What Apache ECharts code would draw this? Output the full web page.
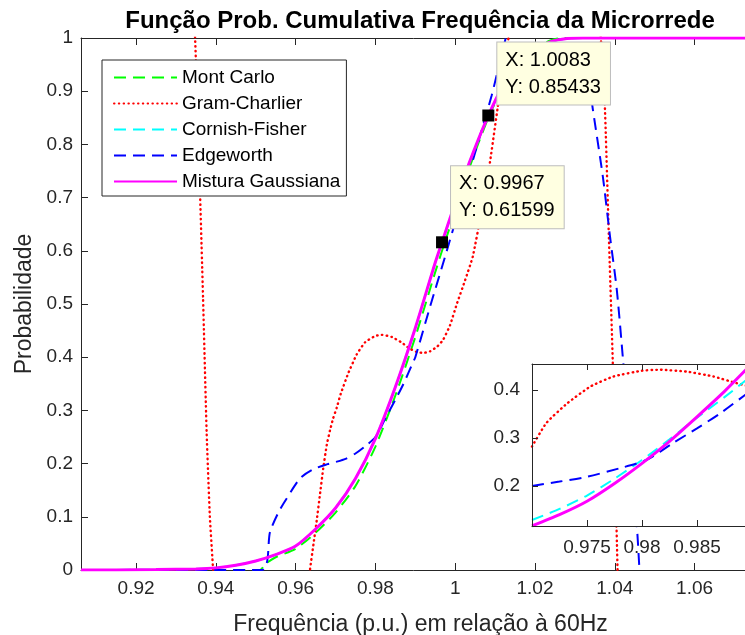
<!DOCTYPE html>
<html>
<head>
<meta charset="utf-8">
<script src="https://cdn.jsdelivr.net/npm/echarts@6/dist/echarts.min.js"></script>
<style>
html, body { margin: 0; padding: 0; background: #fff; }
#chart { width: 745px; height: 635px; }
</style>
</head>
<body>
<div id="chart"></div>
<script>
// Cumulative distribution of microgrid frequency (p.u. of 60 Hz), five estimators.
const seriesNames = ['Mont Carlo', 'Gram-Charlier', 'Cornish-Fisher', 'Edgeworth', 'Mistura Gaussiana'];

const montCarlo = [[0.9062,0],[0.951,0],[0.9525,0.012],[0.955,0.024],[0.96,0.04],[0.965,0.07],[0.97,0.108],
  [0.975,0.158],[0.98,0.232],[0.985,0.328],[0.99,0.438],[0.995,0.56],[0.9967,0.6],[1.0,0.675],[1.0035,0.755],
  [1.0083,0.85],[1.012,0.908],[1.016,0.952],[1.02,0.98],[1.024,0.996],[1.027,1],[1.0764,1]];

const gramCharlier = [[0.933,1.3],[0.9348,1.0],[0.9358,0.77],[0.9368,0.51],[0.9377,0.257],[0.9385,0.1],[0.9393,0],
  [0.9405,-0.25],[0.95,-0.6],[0.96,-0.4],[0.9625,-0.1],[0.9636,0],[0.9645,0.05],[0.9653,0.094],[0.9661,0.142],
  [0.9669,0.19],[0.9678,0.235],[0.9686,0.262],[0.9694,0.285],[0.9703,0.305],[0.9713,0.331],[0.9732,0.37],
  [0.9753,0.405],[0.9774,0.428],[0.98,0.44],[0.9816,0.442],[0.9841,0.438],[0.9865,0.428],[0.9886,0.416],
  [0.9903,0.41],[0.992,0.408],[0.9937,0.411],[0.9955,0.42],[0.997,0.433],[0.9987,0.46],[1.0004,0.5],
  [1.0025,0.545],[1.0044,0.589],[1.0065,0.67],[1.0087,0.766],[1.0107,0.872],[1.0125,0.96],[1.014,1.03],
  [1.02,1.3],[1.03,1.3],[1.035,1.12],[1.0365,1.0],[1.0375,0.874],[1.0385,0.63],[1.0395,0.39],[1.04,0.22],
  [1.0407,0],[1.0415,-0.2],[1.06,-0.6],[1.0764,-0.6]];

const cornishFisher = [[0.9062,0],[0.915,0.0002],[0.925,0.0008],[0.935,0.002],[0.94,0.004],[0.945,0.009],
  [0.95,0.017],[0.955,0.029],[0.96,0.045],[0.965,0.077],[0.97,0.1165],[0.975,0.172],[0.98,0.247],[0.985,0.344],
  [0.99,0.455],[0.995,0.578],[0.9967,0.616],[1.0,0.69],[1.0035,0.765],[1.0083,0.854],[1.012,0.91],[1.016,0.952],
  [1.02,0.978],[1.024,0.993],[1.028,0.999],[1.032,1],[1.0764,1]];

const edgeworth = [[0.9062,0],[0.9515,0],[0.9536,0.072],[0.9558,0.11],[0.9578,0.135],[0.9612,0.173],[0.9643,0.189],
  [0.968,0.199],[0.97,0.203],[0.9725,0.209],[0.975,0.219],[0.9775,0.233],[0.98,0.25],[0.9825,0.285],[0.985,0.32],
  [0.9871,0.351],[0.9894,0.39],[0.99,0.4],[0.9937,0.495],[0.9975,0.59],[1.001,0.68],[1.005,0.785],[1.0091,0.891],
  [1.0125,0.995],[1.015,1.06],[1.022,1.12],[1.029,1.06],[1.032,1.0],[1.0345,0.866],[1.037,0.74],[1.0388,0.627],
  [1.0405,0.527],[1.042,0.401],[1.0438,0.24],[1.0456,0.075],[1.0462,0],[1.047,-0.08],[1.0764,-0.08]];

const misturaGaussiana = [[0.9062,0],[0.915,0.0002],[0.925,0.0008],[0.935,0.002],[0.94,0.004],[0.945,0.009],
  [0.95,0.017],[0.955,0.029],[0.96,0.045],[0.965,0.077],[0.97,0.1165],[0.975,0.172],[0.98,0.247],[0.985,0.344],
  [0.99,0.455],[0.995,0.578],[0.9967,0.616],[1.0,0.69],[1.0035,0.765],[1.0083,0.854],[1.012,0.91],[1.016,0.952],
  [1.02,0.978],[1.024,0.993],[1.028,0.999],[1.032,1],[1.0764,1]];

// Zoomed window 0.97 - 0.99
const gramCharlierZoom = [[0.97,0.282],[0.9713,0.331],[0.9732,0.372],[0.9753,0.407],[0.9774,0.428],[0.98,0.44],
  [0.9816,0.442],[0.9841,0.438],[0.9865,0.428],[0.9886,0.414],[0.99,0.406]];
const cornishFisherZoom = [[0.97,0.129],[0.9725,0.152],[0.975,0.18],[0.9775,0.215],[0.98,0.254],[0.9825,0.297],
  [0.985,0.342],[0.9875,0.385],[0.99,0.43]];
const edgeworthZoom = [[0.97,0.2],[0.9725,0.209],[0.975,0.219],[0.978,0.237],[0.9804,0.254],[0.9828,0.289],
  [0.985,0.32],[0.9871,0.351],[0.9894,0.39],[0.99,0.4]];
const misturaGaussianaZoom = [[0.97,0.1165],[0.9725,0.14],[0.975,0.168],[0.9775,0.205],[0.98,0.247],[0.9825,0.293],
  [0.985,0.344],[0.9875,0.397],[0.99,0.455]];

// Data cursors
const dataTips = [[1.0083, 0.85433], [0.9967, 0.61599]];

const xTicks = [0.92, 0.94, 0.96, 0.98, 1, 1.02, 1.04, 1.06];
const zoomXTicks = [0.975, 0.98, 0.985];
const zoomYTicks = [0.2, 0.3, 0.4];

const FONT = '"Liberation Sans", Arial, sans-serif';
const AX = '#262626';
const colors = {
  'Mont Carlo': '#00FF00',
  'Gram-Charlier': '#FF0000',
  'Cornish-Fisher': '#00FFFF',
  'Edgeworth': '#0000FF',
  'Mistura Gaussiana': '#FF00FF'
};
const styles = {
  'Mont Carlo': { width: 2, type: [12, 7] },
  'Gram-Charlier': { width: 2.4, type: [0.5, 4.3], cap: 'round' },
  'Cornish-Fisher': { width: 2, type: [12, 7] },
  'Edgeworth': { width: 2, type: [12, 7] },
  'Mistura Gaussiana': { width: 3, type: 'solid' }
};

function lineSeries(name, data, xi, yi, z) {
  return {
    type: 'line', name, data, xAxisIndex: xi, yAxisIndex: yi, z,
    symbol: 'none', smooth: name === 'Gram-Charlier' ? 0.15 : 0.25, clip: true,
    lineStyle: Object.assign({ color: colors[name] }, styles[name]),
    itemStyle: { color: colors[name] },
    emphasis: { disabled: true }
  };
}

const frameAxis = (extra) => Object.assign({
  type: 'value', splitLine: { show: false },
  axisLine: { show: true, onZero: false, lineStyle: { color: AX, width: 1 } },
  axisTick: { show: true, inside: true, length: 7, lineStyle: { color: AX } },
  axisLabel: { color: AX, fontSize: 19, fontFamily: FONT }
}, extra);

const chart = echarts.init(document.getElementById('chart'), null, { renderer: 'canvas' });
chart.setOption({
  animation: false,
  backgroundColor: '#fff',
  graphic: [{
    type: 'text', x: 420, y: 21, z: 10,
    style: { text: 'Função Prob. Cumulativa Frequência da Microrrede', align: 'center', verticalAlign: 'middle',
      font: 'bold 24px ' + FONT, fill: '#000' }
  }],
  legend: {
    data: seriesNames, orient: 'vertical', left: 102, top: 60, z: 8,
    itemWidth: 63, itemHeight: 14, itemGap: 7, padding: [8, 6, 5, 11],
    borderColor: AX, borderWidth: 1, backgroundColor: '#fff', selectedMode: false,
    itemStyle: { opacity: 0, color: 'transparent', borderWidth: 0 },
    textStyle: { fontSize: 19, fontFamily: FONT, color: '#000' }
  },
  grid: [
    { left: 81, top: 38, width: 679, height: 532, outerBoundsMode: 'none', containLabel: false },
    { left: 532, top: 364, width: 220, height: 162, outerBoundsMode: 'none', containLabel: false,
      show: true, backgroundColor: '#fff', borderWidth: 0, z: 5 }
  ],
  xAxis: [
    frameAxis({ gridIndex: 0, position: 'bottom', min: 0.9062, max: 1.0764,
      axisTick: { show: true, inside: true, length: 7, lineStyle: { color: AX }, customValues: xTicks },
      axisLabel: { color: AX, fontSize: 19, fontFamily: FONT, margin: 9, customValues: xTicks },
      name: 'Frequência (p.u.) em relação à 60Hz', nameLocation: 'middle', nameGap: 43,
      nameTextStyle: { fontSize: 23, fontFamily: FONT, color: AX } }),
    frameAxis({ gridIndex: 0, position: 'top', min: 0.9062, max: 1.0764,
      axisTick: { show: true, inside: true, length: 7, lineStyle: { color: AX }, customValues: xTicks },
      axisLabel: { show: false } }),
    frameAxis({ gridIndex: 1, position: 'bottom', min: 0.97, max: 0.99, z: 7,
      axisTick: { show: true, inside: true, length: 6, lineStyle: { color: AX }, customValues: zoomXTicks },
      axisLabel: { color: AX, fontSize: 19, fontFamily: FONT, margin: 12, customValues: zoomXTicks } }),
    frameAxis({ gridIndex: 1, position: 'top', min: 0.97, max: 0.99, z: 7,
      axisTick: { show: true, inside: true, length: 6, lineStyle: { color: AX }, customValues: zoomXTicks },
      axisLabel: { show: false } })
  ],
  yAxis: [
    frameAxis({ gridIndex: 0, position: 'left', min: 0, max: 1, interval: 0.1,
      axisLabel: { color: AX, fontSize: 19, fontFamily: FONT, margin: 8 },
      name: 'Probabilidade', nameLocation: 'middle', nameGap: 45,
      nameTextStyle: { fontSize: 23, fontFamily: FONT, color: AX } }),
    frameAxis({ gridIndex: 1, position: 'left', min: 0.1165, max: 0.454, z: 7,
      axisTick: { show: true, inside: true, length: 6, lineStyle: { color: AX }, customValues: zoomYTicks },
      axisLabel: { color: AX, fontSize: 19, fontFamily: FONT, margin: 12, customValues: zoomYTicks } }),
    frameAxis({ gridIndex: 1, position: 'right', min: 0.1165, max: 0.454, z: 7,
      axisTick: { show: true, inside: true, length: 6, lineStyle: { color: AX }, customValues: zoomYTicks },
      axisLabel: { show: false } })
  ],
  series: [
    lineSeries('Mont Carlo', montCarlo, 0, 0, 2),
    lineSeries('Gram-Charlier', gramCharlier, 0, 0, 2),
    lineSeries('Cornish-Fisher', cornishFisher, 0, 0, 2),
    lineSeries('Edgeworth', edgeworth, 0, 0, 2),
    lineSeries('Mistura Gaussiana', misturaGaussiana, 0, 0, 2),
    lineSeries('Gram-Charlier', gramCharlierZoom, 2, 1, 6),
    lineSeries('Cornish-Fisher', cornishFisherZoom, 2, 1, 6),
    lineSeries('Edgeworth', edgeworthZoom, 2, 1, 6),
    lineSeries('Mistura Gaussiana', misturaGaussianaZoom, 2, 1, 6),
    {
      type: 'scatter', name: 'cursor', xAxisIndex: 0, yAxisIndex: 0, z: 9,
      symbol: 'rect', symbolSize: 12, itemStyle: { color: '#000', opacity: 1 },
      emphasis: { disabled: true },
      data: [
        { value: dataTips[0], label: { position: [15, -67] } },
        { value: dataTips[1], label: { position: [15, -70] } }
      ],
      label: {
        show: true, fontSize: 20, fontFamily: FONT, color: '#000', lineHeight: 27, opacity: 1,
        backgroundColor: '#FFFFE1', borderColor: '#BDBDBD', borderWidth: 1, padding: [4, 9, 4, 8],
        formatter: (p) => 'X: ' + p.value[0] + '\nY: ' + p.value[1]
      }
    }
  ]
});
</script>
</body>
</html>
